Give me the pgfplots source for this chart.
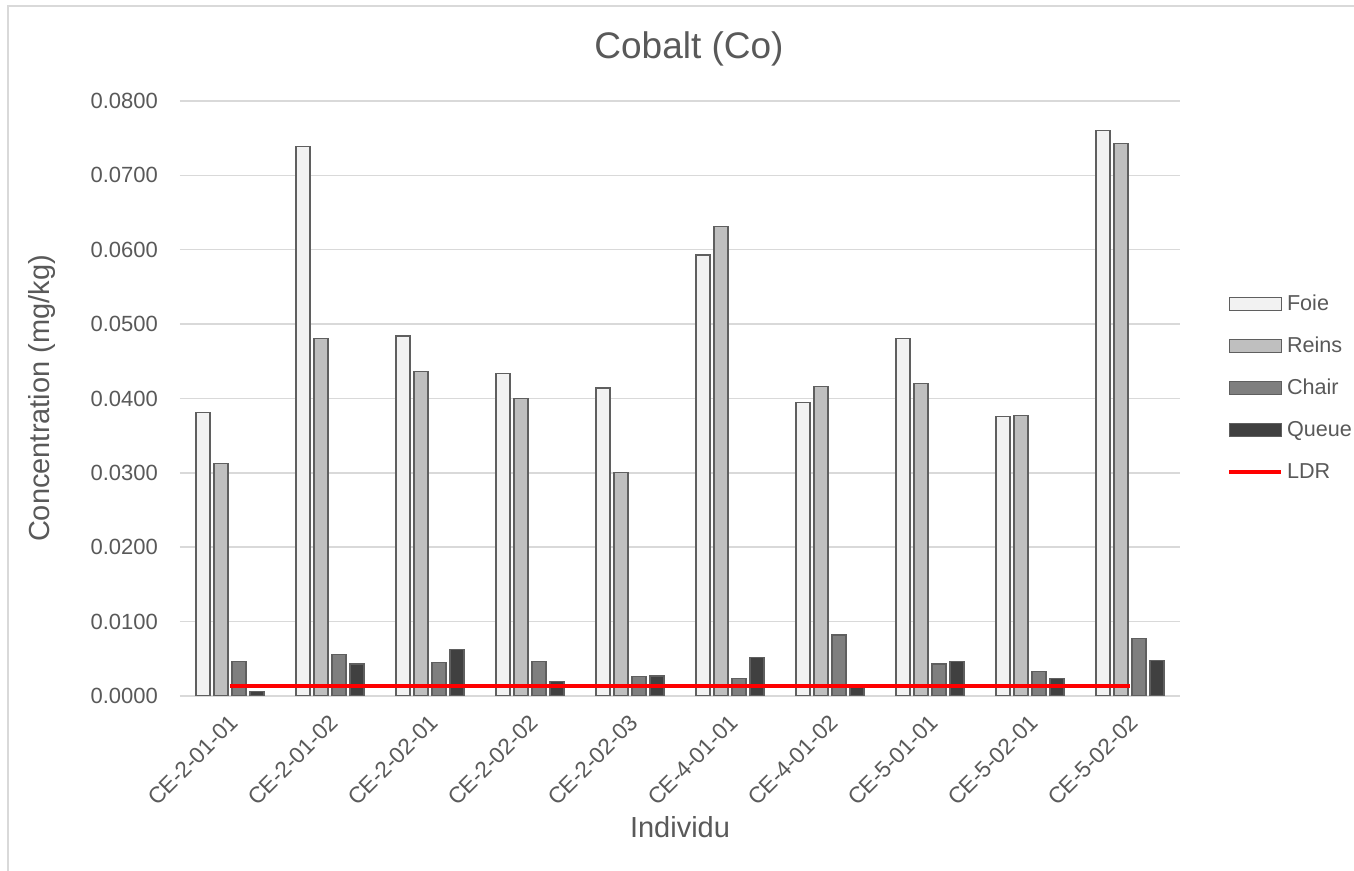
\documentclass[border=0pt]{standalone}
\usepackage{pgfplots}
\pgfplotsset{compat=1.18}
\usepackage{pgfplotstable}
\usepackage{fontspec}
\setmainfont{Liberation Sans}
\definecolor{txt}{HTML}{595959}
\definecolor{gridc}{HTML}{D9D9D9}
\definecolor{foie}{HTML}{F2F2F2}
\definecolor{reins}{HTML}{BFBFBF}
\definecolor{chair}{HTML}{7F7F7F}
\definecolor{queue}{HTML}{404040}
\definecolor{edge}{HTML}{5F5F5F}
\pgfplotsset{
  barleg/.style={legend image code/.code={\draw[##1] (0pt,-3.25pt) rectangle (26pt,3.25pt);}},
  lineleg/.style={legend image code/.code={\draw[##1] (0pt,0pt) -- (26pt,0pt);}},
}
\pgfplotstableread{
x Foie Reins Chair Queue
0 0.0381 0.0313 0.0046 0.0006
1 0.0739 0.0481 0.0056 0.0043
2 0.0484 0.0436 0.0045 0.0062
3 0.0434 0.0400 0.0046 0.0020
4 0.0414 0.0300 0.0026 0.0027
5 0.0593 0.0631 0.0023 0.0052
6 0.0395 0.0416 0.0082 0.0012
7 0.0481 0.0420 0.0043 0.0046
8 0.0376 0.0377 0.0033 0.0024
9 0.0760 0.0743 0.0077 0.0048
}\data
\begin{document}
\begin{tikzpicture}
\useasboundingbox (-90pt,-87.5pt) rectangle (587pt,348pt);
\draw[gridc, line width=0.75pt] (-86pt,-87.5pt) -- (-86pt,345pt) -- (587pt,345pt);
\begin{axis}[
  at={(0pt,0pt)}, anchor=south west,
  scale only axis, width=500pt, height=297.5pt,
  ybar, bar width=7pt,
  xmin=-0.5, xmax=9.5, ymin=0, ymax=0.08,
  xtick={0,...,9},
  xticklabels={CE-2-01-01,CE-2-01-02,CE-2-02-01,CE-2-02-02,CE-2-02-03,CE-4-01-01,CE-4-01-02,CE-5-01-01,CE-5-02-01,CE-5-02-02},
  minor xtick={-0.5,0.5,...,9.5},
  ytick={0,0.01,...,0.081},
  ymajorgrids, grid style={gridc, line width=0.75pt},
  axis x line*=bottom, axis y line*=left,
  x axis line style={gridc, line width=0.75pt, -},
  y axis line style={draw=none},
  xtick style={draw=none}, ytick style={draw=none},
  minor x tick style={gridc, line width=0.75pt},
  minor tick length=3.5pt, major tick length=0pt,
  tick align=outside,
  /pgf/number format/assume math mode=true,
  yticklabel style={/pgf/number format/.cd, fixed, fixed zerofill, precision=4, /tikz/.cd, text=txt, font=\fontsize{11}{13}\selectfont, xshift=-7.5pt},
  scaled y ticks=false,
  xticklabel style={rotate=45, anchor=east, text=txt, font=\fontsize{11.3}{13}\selectfont, yshift=-9.5pt, xshift=-3pt},
  xlabel={Individu},
  xlabel style={at={(axis description cs:0.5,-0.22)}, anchor=center, text=txt, font=\fontsize{14.5}{17}\selectfont},
  ylabel={Concentration (mg/kg)},
  ylabel style={at={(axis description cs:-0.138,0.5)}, anchor=center, text=txt, font=\fontsize{14.5}{17}\selectfont},
  title={Cobalt (Co)},
  title style={at={(rel axis cs:0.509,1)}, anchor=center, yshift=20pt, text=txt, font=\fontsize{18.5}{22}\selectfont},
  legend cell align=left,
  legend style={at={(rel axis cs:1.047,0.676)}, anchor=north west, draw=none, fill=none, inner sep=0pt, row sep=11pt,
    font=\fontsize{10.8}{13}\selectfont, text=txt,
    nodes={inner sep=0pt, text height=8pt, text depth=2pt},
    /tikz/every odd column/.append style={column sep=1.8pt}},
]
\addplot[fill=foie, draw=edge, line width=0.6pt, bar shift=-13.5pt, barleg] table[x=x, y=Foie] {\data};
\addplot[fill=reins, draw=edge, line width=0.6pt, bar shift=-4.5pt, barleg] table[x=x, y=Reins] {\data};
\addplot[fill=chair, draw=edge, line width=0.6pt, bar shift=4.5pt, barleg] table[x=x, y=Chair] {\data};
\addplot[fill=queue, draw=edge, line width=0.6pt, bar shift=13.5pt, barleg] table[x=x, y=Queue] {\data};
\addplot[sharp plot, red, line width=2pt, lineleg] coordinates {(0,0.0013) (9,0.0013)};
\legend{Foie,Reins,Chair,Queue,LDR}
\end{axis}
\end{tikzpicture}
\end{document}
